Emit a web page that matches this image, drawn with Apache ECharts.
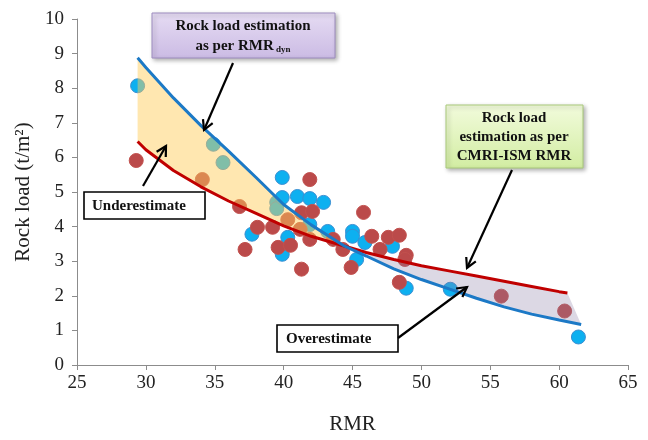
<!DOCTYPE html>
<html>
<head>
<meta charset="utf-8">
<script src="https://cdn.jsdelivr.net/npm/echarts@6/dist/echarts.min.js"></script>
<style>
  html, body { margin: 0; background: #fff; }
  #chart { width: 648px; height: 440px; }
</style>
</head>
<body>
<div id="chart"></div>
<script>
// measured points (RMR_dyn set)
const blueRmr  = [29.4, 34.9, 35.6, 37.7, 39.5, 39.5, 39.9, 39.9, 41.0, 41.9, 42.9, 39.9, 40.3, 41.9, 43.2, 45.0, 45.0, 45.3, 45.9, 47.9, 48.9, 52.1, 61.4];
const blueLoad = [8.07, 6.38, 5.85, 3.78, 4.70, 4.52, 5.42, 4.84, 4.87, 4.81, 4.70, 3.20, 3.69, 4.06, 3.86, 3.86, 3.72, 3.05, 3.54, 3.43, 2.22, 2.19, 0.81];

// measured points (CMRI-ISM RMR set)
const redRmr  = [29.3, 34.1, 36.8, 37.2, 38.1, 39.2, 39.6, 40.3, 40.5, 41.2, 41.3, 41.3, 41.9, 42.1, 41.9, 43.6, 44.3, 44.9, 45.8, 46.4, 47.0, 47.6, 48.4, 48.9, 48.8, 48.4, 55.8, 60.4];
const redLoad = [5.91, 5.36, 4.58, 3.34, 3.98, 3.98, 3.40, 4.20, 3.46, 3.92, 4.40, 2.77, 5.36, 4.44, 3.63, 3.63, 3.34, 2.82, 4.41, 3.72, 3.34, 3.69, 3.75, 3.17, 3.05, 2.39, 1.99, 1.56];

// fitted curves (index 8 is where they cross)
const blueCurveX = [29.4, 30, 32, 34, 36, 38, 40, 42, 44.4, 46, 48, 50, 52, 54, 56, 58, 60, 61.6];
const blueCurveY = [8.88, 8.60, 7.72, 6.92, 6.18, 5.42, 4.64, 4.05, 3.44, 3.15, 2.78, 2.47, 2.20, 1.93, 1.68, 1.47, 1.30, 1.17];
const redCurveX  = [29.4, 30, 32, 34, 36, 38, 40, 42, 44.4, 46, 48, 50, 52, 54, 56, 58, 60, 60.6];
const redCurveY  = [6.46, 6.22, 5.62, 5.15, 4.74, 4.38, 4.02, 3.72, 3.44, 3.25, 3.05, 2.87, 2.72, 2.57, 2.42, 2.27, 2.12, 2.08];
const crossIdx = 8;

const xTicks = [25, 30, 35, 40, 45, 50, 55, 60, 65];
const yTicks = [0, 1, 2, 3, 4, 5, 6, 7, 8, 9, 10];

const serif = '"Liberation Serif", "DejaVu Serif", serif';

function pairs(xs, ys) {
  return xs.map((x, i) => [x, ys[i]]);
}
const bluePts = pairs(blueCurveX, blueCurveY);
const redPts = pairs(redCurveX, redCurveY);

function arrow(x1, y1, x2, y2) {
  const a = Math.atan2(y2 - y1, x2 - x1);
  const len = 11, spread = 0.5;
  const h1 = [x2 - len * Math.cos(a - spread), y2 - len * Math.sin(a - spread)];
  const h2 = [x2 - len * Math.cos(a + spread), y2 - len * Math.sin(a + spread)];
  return [
    { type: 'line', z: 100, shape: { x1, y1, x2, y2 }, style: { stroke: '#000', lineWidth: 2.2 } },
    { type: 'polyline', z: 100, shape: { points: [h1, [x2, y2], h2] }, style: { stroke: '#000', lineWidth: 2.2, fill: null } }
  ];
}

function box(x, y, w, h, fill, stroke, shadow) {
  return {
    type: 'rect', z: 90,
    shape: { x, y, width: w, height: h },
    style: {
      fill, stroke, lineWidth: shadow ? 1 : 1.6,
      shadowBlur: shadow ? 4 : 0, shadowOffsetX: shadow ? 2 : 0, shadowOffsetY: shadow ? 2 : 0,
      shadowColor: 'rgba(0,0,0,0.3)'
    }
  };
}

function label(x, y, text, align, rich) {
  return {
    type: 'text', z: 95, x, y,
    style: {
      text, fill: '#111', font: 'bold 15px ' + serif, align: align || 'center',
      verticalAlign: 'middle', lineHeight: 19, rich
    }
  };
}

const chart = echarts.init(document.getElementById('chart'), null, { renderer: 'canvas' });

const option = {
  animation: false,
  backgroundColor: '#fff',
  grid: { left: 77, right: 20, top: 19, bottom: 74 },
  xAxis: {
    type: 'value', min: xTicks[0], max: xTicks[xTicks.length - 1], interval: 5,
    name: 'RMR', nameLocation: 'middle', nameGap: 49,
    nameTextStyle: { fontFamily: serif, fontSize: 21, color: '#222' },
    axisLine: { lineStyle: { color: '#8c8c8c', width: 1 } },
    axisTick: { show: true, length: 5, lineStyle: { color: '#8c8c8c' } },
    axisLabel: { fontFamily: serif, fontSize: 19, color: '#222', margin: 9 },
    splitLine: { show: false }
  },
  yAxis: {
    type: 'value', min: yTicks[0], max: yTicks[yTicks.length - 1], interval: 1,
    name: 'Rock load (t/m²)', nameLocation: 'middle', nameGap: 42, nameRotate: 90,
    nameTextStyle: { fontFamily: serif, fontSize: 21, color: '#222' },
    axisLine: { show: true, lineStyle: { color: '#8c8c8c', width: 1 } },
    axisTick: { show: true, length: 5, lineStyle: { color: '#8c8c8c' } },
    axisLabel: { fontFamily: serif, fontSize: 19, color: '#222', margin: 13 },
    splitLine: { show: false }
  },
  series: [
    {
      type: 'scatter', z: 2, symbolSize: 14,
      data: pairs(blueRmr, blueLoad),
      itemStyle: { color: '#0db0f0', borderColor: '#3b8fd2', borderWidth: 1, opacity: 1 }
    },
    {
      type: 'scatter', z: 2, symbolSize: 14,
      data: pairs(redRmr, redLoad),
      itemStyle: { color: '#bb4a4a', borderColor: '#c2514e', borderWidth: 1, opacity: 1 }
    },
    {
      type: 'custom', z: 3, silent: true,
      data: [[0, 0]],
      renderItem: function (params, api) {
        const yellow = bluePts.slice(0, crossIdx + 1)
          .concat(redPts.slice(0, crossIdx + 1).reverse())
          .map(p => api.coord(p));
        const grey = redPts.slice(crossIdx)
          .concat(bluePts.slice(crossIdx).reverse())
          .map(p => api.coord(p));
        return {
          type: 'group',
          children: [
            { type: 'polygon', shape: { points: yellow }, style: { fill: 'rgba(255,205,90,0.48)' } },
            { type: 'polygon', shape: { points: grey }, style: { fill: 'rgba(140,127,166,0.3)' } }
          ]
        };
      }
    },
    {
      type: 'line', z: 4, data: redPts, symbol: 'none', smooth: false,
      lineStyle: { color: '#c00000', width: 3 }
    },
    {
      type: 'line', z: 4, data: bluePts, symbol: 'none', smooth: false,
      lineStyle: { color: '#1c79c6', width: 3 }
    }
  ],
  graphic: [
    box(152, 13, 183, 45, {
      type: 'linear', x: 0, y: 0, x2: 0, y2: 1,
      colorStops: [{ offset: 0, color: '#e6dcf3' }, { offset: 1, color: '#cbbbe4' }]
    }, '#9d8cbf', true),
    label(243, 26, 'Rock load estimation'),
    label(243, 46, '{a|as per RMR}{s| dyn}', 'center', {
      a: { font: 'bold 15px ' + serif, fill: '#111' },
      s: { font: 'bold 9px ' + serif, fill: '#111', padding: [8, 0, 0, 0] }
    }),

    box(446, 105, 137, 63, {
      type: 'linear', x: 0, y: 0, x2: 0, y2: 1,
      colorStops: [{ offset: 0, color: '#f2fbdc' }, { offset: 1, color: '#d2eda2' }]
    }, '#a9c97a', true),
    label(514, 118, 'Rock load'),
    label(514, 137, 'estimation as per'),
    label(514, 156, 'CMRI-ISM RMR'),

    box(84, 192, 121, 27, '#fff', '#000', false),
    label(92, 206, 'Underestimate', 'left'),

    box(277, 325, 121, 27, '#fff', '#000', false),
    label(286, 339, 'Overestimate', 'left')
  ].concat(
    arrow(233, 63, 204, 130),
    arrow(143, 186, 166, 146),
    arrow(512, 170, 467, 268),
    arrow(398, 338, 467, 287)
  )
};

chart.setOption(option);
</script>
</body>
</html>
